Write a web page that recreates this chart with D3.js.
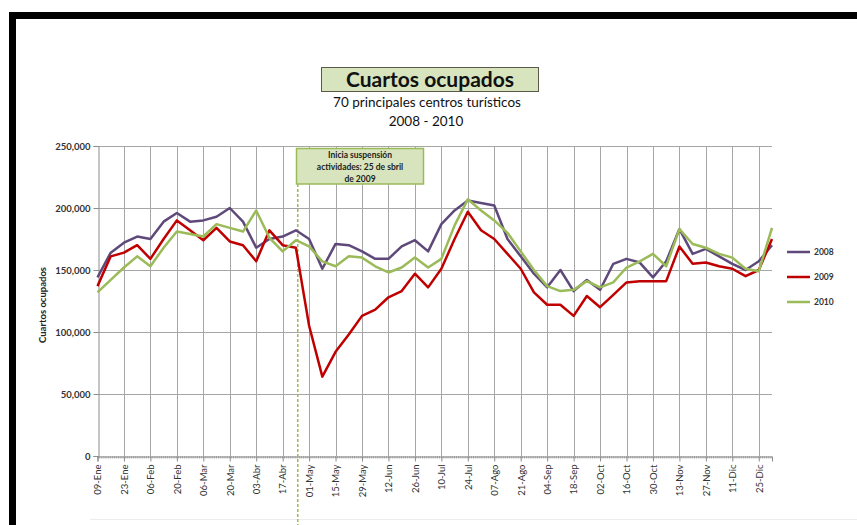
<!DOCTYPE html>
<html>
<head>
<meta charset="utf-8">
<script src="https://cdn.jsdelivr.net/npm/d3@7"></script>
<style>
  html, body { margin: 0; padding: 0; background: #fff; }
  svg { display: block; font-family: Lato, "Open Sans", sans-serif; }
</style>
</head>
<body>
<svg id="chart" width="857" height="525"></svg>
<script>
// ---- data ----
const weeks = ["09-Ene","16-Ene","23-Ene","30-Ene","06-Feb","13-Feb","20-Feb","27-Feb","06-Mar","13-Mar",
  "20-Mar","27-Mar","03-Abr","10-Abr","17-Abr","24-Abr","01-May","08-May","15-May","22-May",
  "29-May","05-Jun","12-Jun","19-Jun","26-Jun","03-Jul","10-Jul","17-Jul","24-Jul","31-Jul",
  "07-Ago","14-Ago","21-Ago","28-Ago","04-Sep","11-Sep","18-Sep","25-Sep","02-Oct","09-Oct",
  "16-Oct","23-Oct","30-Oct","06-Nov","13-Nov","20-Nov","27-Nov","04-Dic","11-Dic","18-Dic",
  "25-Dic","01-Ene"];
const s2008 = [144,164,172,177,175,189,196,189,190,193,200,189,168,175,177,182,175,151,171,170,
  165,159,159,169,174,165,187,198,206,204,202,175,161,147,136,150,133,142,134,155,
  159,156,144,157,183,163,167,161,155,150,157,170].map(v => v * 1000);
const s2009 = [137,161,164,170,159,175,190,182,174,184,173,170,157,182,170,168,105,64,84,98,
  113,118,128,133,147,136,151,175,197,182,175,163,151,132,122,122,113,129,120,130,
  140,141,141,141,169,155,156,153,151,145,150,175].map(v => v * 1000);
const s2010 = [132,142,152,161,153,168,181,179,177,187,184,181,198,176,165,174,169,157,153,161,
  160,153,148,152,160,152,159,186,207,198,190,180,165,150,137,133,134,141,136,140,
  152,157,163,153,183,171,168,163,160,151,149,184].map(v => v * 1000);
const seriesNames = ["2008","2009","2010"];
const seriesColors = ["#5f497a","#c00000","#9bbb59"];
const yTicks = [0, 50000, 100000, 150000, 200000, 250000];
const title = "Cuartos ocupados";
const subtitle1 = "70 principales centros turísticos";
const subtitle2 = "2008 - 2010";
const yTitle = "Cuartos ocupados";
const noteLines = ["Inicia suspensión", "actividades: 25 de sbril", "de 2009"];
const noteWeek = 15 + 1/7; // 25 de abril

// ---- layout ----
const svg = d3.select("#chart");
const x = d3.scaleLinear().domain([0, weeks.length - 1]).range([97.5, 772]);
const y = d3.scaleLinear().domain([0, 250000]).range([456, 146]);

// frame
svg.append("rect").attr("x", 12.5).attr("y", 15.5).attr("width", 870).attr("height", 540)
  .attr("fill", "none").attr("stroke", "#000").attr("stroke-width", 7);

// faint bottom line
svg.append("line").attr("x1", 90).attr("x2", 857).attr("y1", 519.5).attr("y2", 519.5)
  .attr("stroke", "#ececec").attr("stroke-width", 1);

// title box
svg.append("rect").attr("x", 321.5).attr("y", 67.5).attr("width", 217).attr("height", 24)
  .attr("fill", "#d7e4bd").attr("stroke", "#5a5a4a").attr("stroke-width", 1);
svg.append("text").attr("x", 430).attr("y", 87).attr("text-anchor", "middle")
  .attr("font-size", 21).attr("font-weight", "bold").attr("fill", "#111").text(title);
svg.append("text").attr("x", 427).attr("y", 107).attr("text-anchor", "middle")
  .attr("font-size", 13.5).attr("fill", "#111").text(subtitle1);
svg.append("text").attr("x", 426).attr("y", 126).attr("text-anchor", "middle")
  .attr("font-size", 13.5).attr("fill", "#111").text(subtitle2);

// gridlines horizontal
const g = svg.append("g");
g.selectAll("line.hg").data(yTicks.filter(d => d > 0)).join("line").attr("class", "hg")
  .attr("x1", x(0)).attr("x2", x(weeks.length - 1))
  .attr("y1", d => Math.round(y(d)) + 0.5).attr("y2", d => Math.round(y(d)) + 0.5)
  .attr("stroke", "#a6a6a6").attr("stroke-width", 1);

// gridlines vertical every 2 weeks
const majorIdx = d3.range(0, weeks.length, 2);
g.selectAll("line.vg").data(majorIdx.filter(d => d > 0)).join("line").attr("class", "vg")
  .attr("x1", d => Math.round(x(d)) + 0.5).attr("x2", d => Math.round(x(d)) + 0.5)
  .attr("y1", y(250000)).attr("y2", y(0))
  .attr("stroke", "#a6a6a6").attr("stroke-width", 1);

// y axis
const yAxis = d3.axisLeft(y).tickValues(yTicks).tickSize(5).tickPadding(3)
  .tickFormat(d => d3.format(",")(d));
const ya = svg.append("g").attr("transform", `translate(${Math.round(x(0)) + 0.5},0)`).call(yAxis);
ya.select(".domain").attr("stroke", "#8c8c8c");
ya.selectAll(".tick line").attr("stroke", "#8c8c8c");
ya.selectAll(".tick text").attr("font-size", 9.5).attr("font-weight", "bold")
  .attr("fill", "#333").attr("font-family", "Lato, sans-serif");

// y title
svg.append("text").attr("transform", "translate(46,305) rotate(-90)")
  .attr("text-anchor", "middle").attr("font-size", 9.5).attr("font-weight", "bold")
  .attr("fill", "#222").text(yTitle);

// x axis minor ticks (daily)
const minor = d3.range(0, (weeks.length - 1) * 7 + 1).map(d => d / 7);
svg.append("g").selectAll("line").data(minor).join("line")
  .attr("x1", d => x(d)).attr("x2", d => x(d))
  .attr("y1", y(0)).attr("y2", y(0) + 2.5)
  .attr("stroke", "#9a9a9a").attr("stroke-width", 0.8);

const xAxis = d3.axisBottom(x).tickValues(majorIdx).tickSize(5).tickPadding(4)
  .tickFormat(d => weeks[d]);
const xa = svg.append("g").attr("transform", `translate(0,${Math.round(y(0)) + 0.5})`).call(xAxis);
xa.select(".domain").attr("stroke", "#8c8c8c");
xa.selectAll(".tick line").attr("stroke", "#8c8c8c");
xa.selectAll(".tick text").attr("font-size", 9.5).attr("fill", "#333")
  .attr("font-family", "Lato, sans-serif")
  .attr("transform", "rotate(-90)").attr("text-anchor", "end")
  .attr("x", -8).attr("y", 0).attr("dy", "0.35em");

// dashed annotation line
svg.append("line").attr("x1", x(noteWeek)).attr("x2", x(noteWeek))
  .attr("y1", 184).attr("y2", 525)
  .attr("stroke", "#9bbb59").attr("stroke-width", 1.5).attr("stroke-dasharray", "3,2");

// series lines
const seriesData = [s2008, s2009, s2010];
const line = d3.line().x((d, i) => x(i)).y(d => y(d));
svg.append("g").selectAll("path").data(seriesData).join("path")
  .attr("d", d => line(d)).attr("fill", "none")
  .attr("stroke", (d, i) => seriesColors[i]).attr("stroke-width", 2.5)
  .attr("stroke-linejoin", "round");

// annotation box
svg.append("rect").attr("x", 296.5).attr("y", 148.5).attr("width", 127).attr("height", 35.5)
  .attr("fill", "#d7e4bd").attr("stroke", "#9bbb59").attr("stroke-width", 1.5);
svg.append("g").selectAll("text").data(noteLines).join("text")
  .attr("x", 360).attr("y", (d, i) => 158 + i * 11.8).attr("text-anchor", "middle")
  .attr("font-size", 8.5).attr("font-weight", "bold").attr("fill", "#222").text(d => d);

// legend
const lg = svg.append("g").selectAll("g").data(seriesNames).join("g")
  .attr("transform", (d, i) => `translate(787,${252 + i * 25})`);
lg.append("line").attr("x1", 0).attr("x2", 23).attr("y1", 0).attr("y2", 0)
  .attr("stroke", (d, i) => seriesColors[i]).attr("stroke-width", 2.5);
lg.append("text").attr("x", 27).attr("y", 0).attr("dy", "0.35em")
  .attr("font-size", 8.5).attr("font-weight", "bold").attr("fill", "#333").text(d => d);
</script>
</body>
</html>
